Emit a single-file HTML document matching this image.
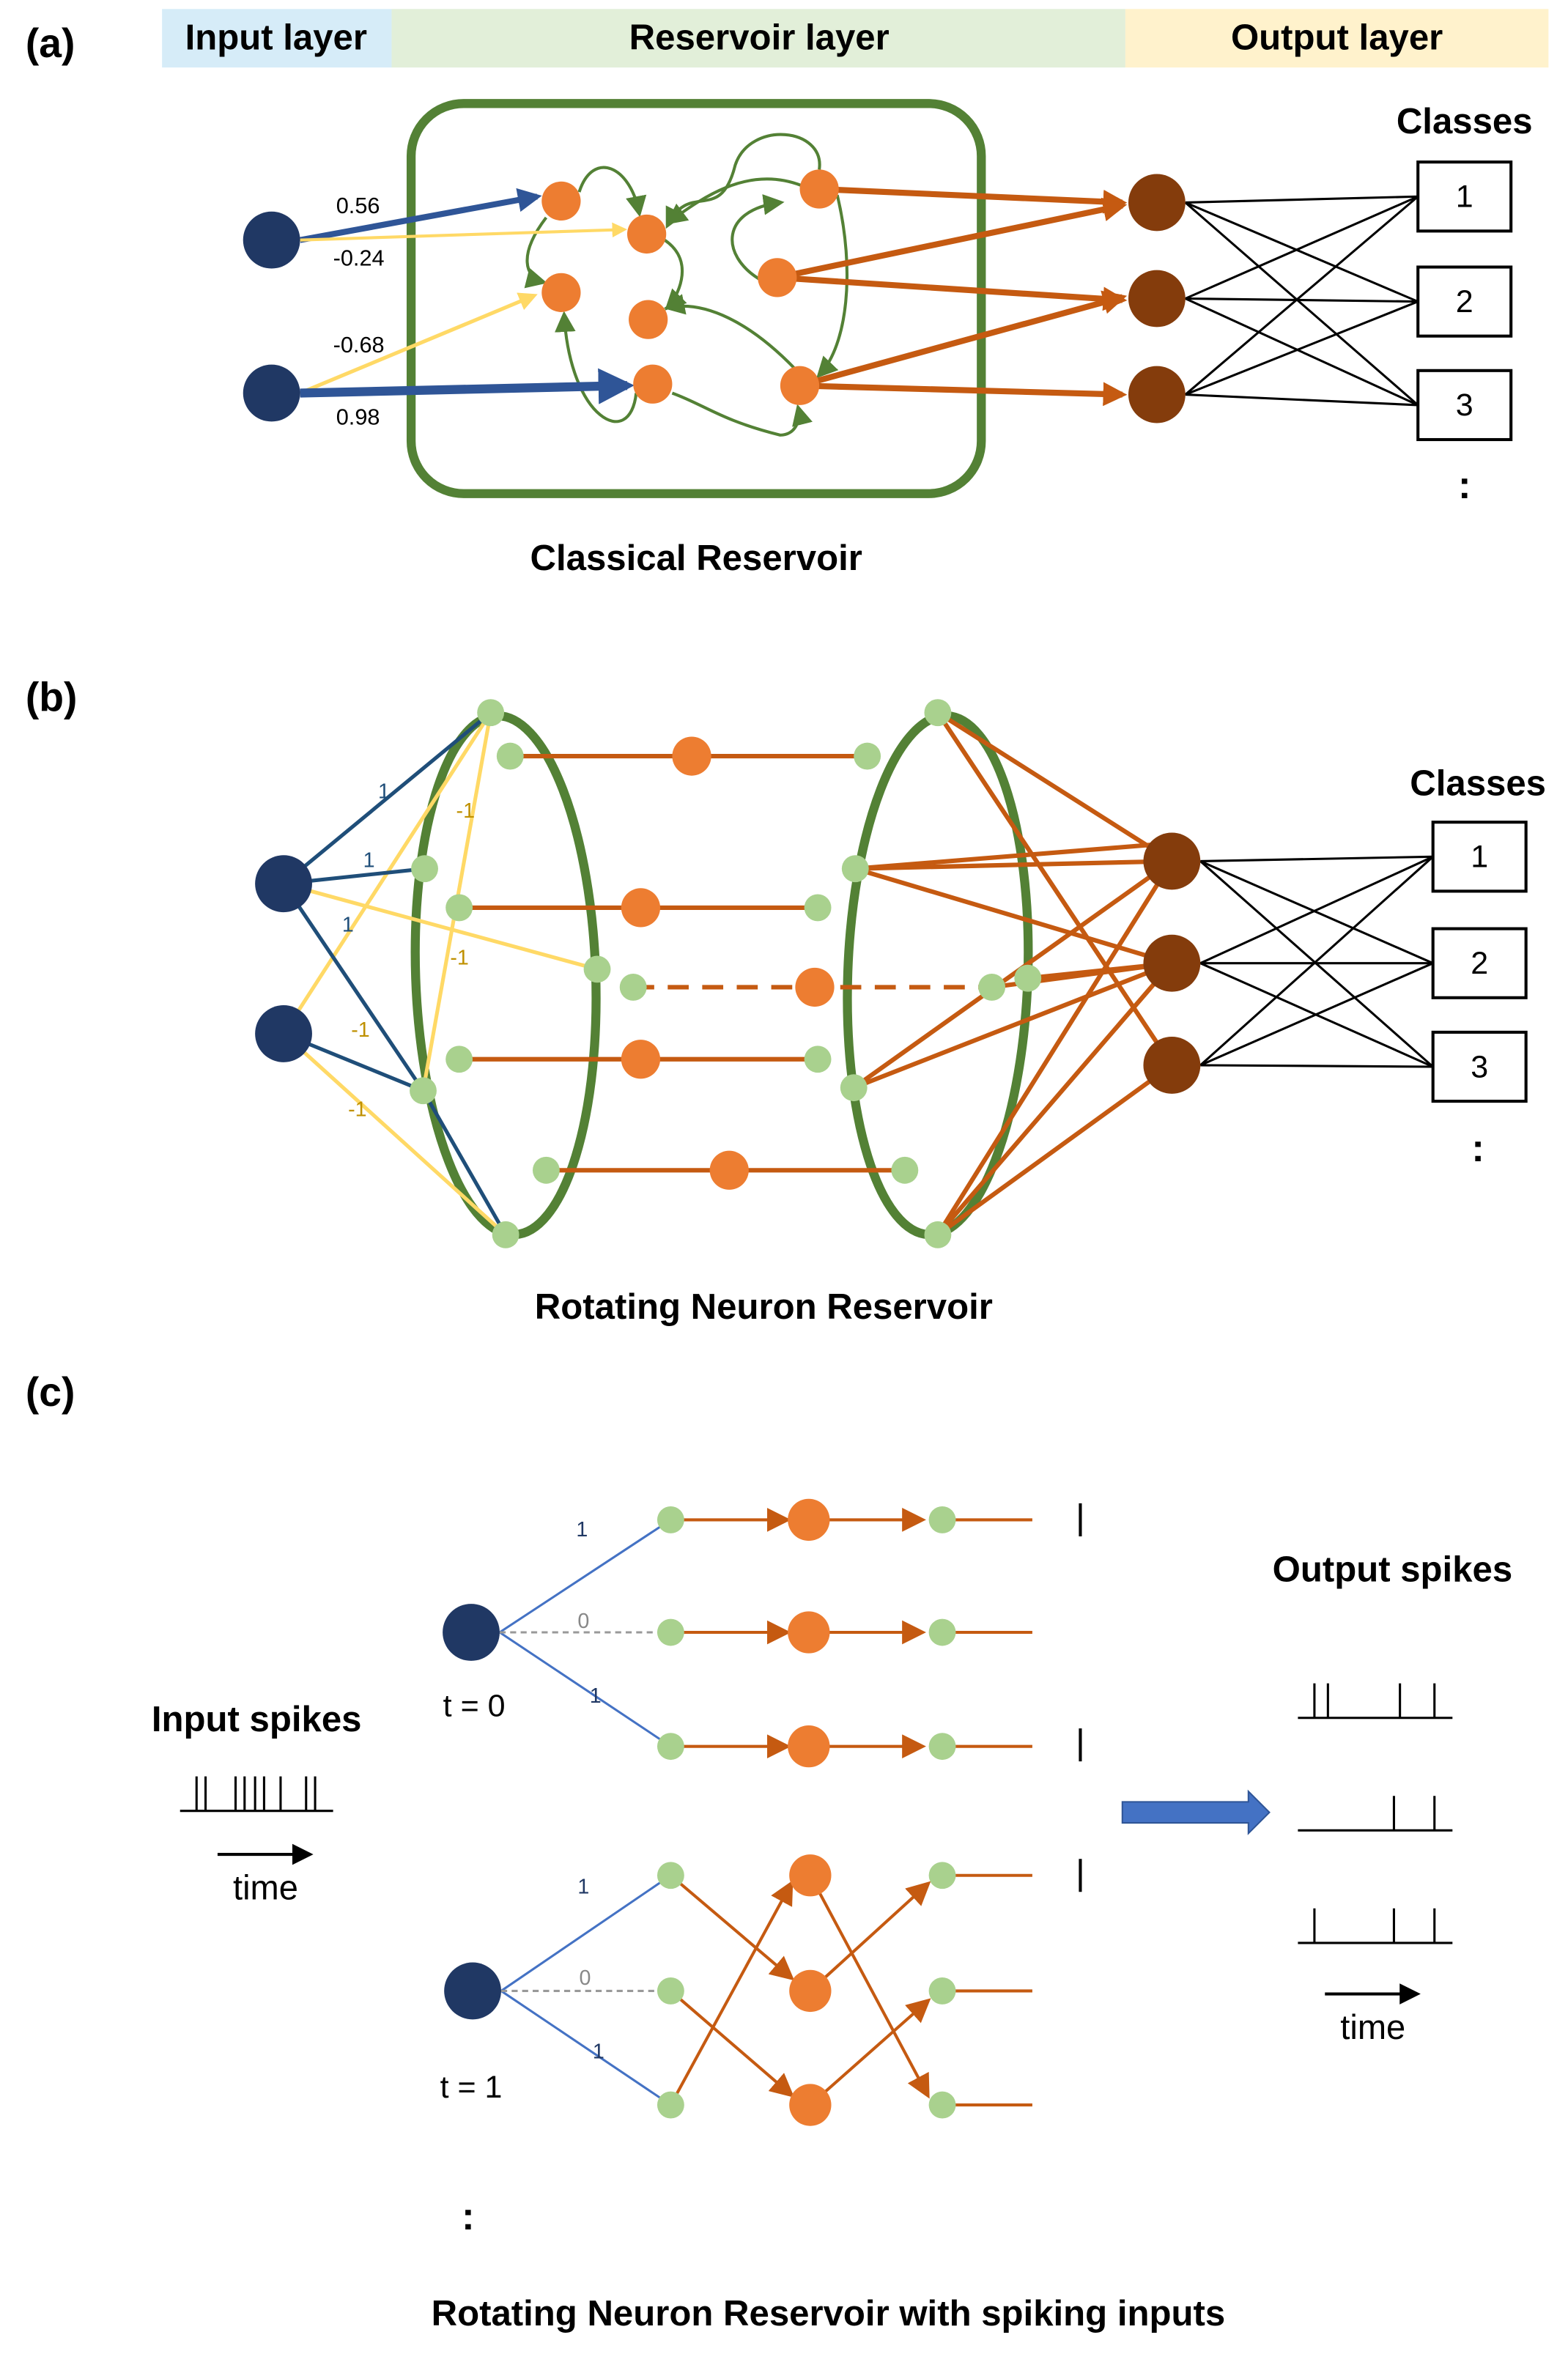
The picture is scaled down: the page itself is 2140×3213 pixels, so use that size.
<!DOCTYPE html>
<html><head><meta charset="utf-8"><style>
html,body{margin:0;padding:0;background:#fff}
svg{display:block}
text{font-family:"Liberation Sans",sans-serif}
.b{font-weight:bold}
</style></head><body>
<svg width="2140" height="3213" viewBox="0 0 1045 1569" preserveAspectRatio="none" xmlns="http://www.w3.org/2000/svg">
<defs>
<marker id="ab" viewBox="0 0 10 10" refX="8" refY="5" markerWidth="4" markerHeight="4" orient="auto"><path d="M0,0L10,5L0,10z" fill="#2f5597"/></marker>
<marker id="ay" viewBox="0 0 10 10" refX="8" refY="5" markerWidth="5" markerHeight="5" orient="auto"><path d="M0,0L10,5L0,10z" fill="#ffd966"/></marker>
<marker id="ao" viewBox="0 0 10 10" refX="8" refY="5" markerWidth="4" markerHeight="4" orient="auto"><path d="M0,0L10,5L0,10z" fill="#c55a11"/></marker>
<marker id="ao2" viewBox="0 0 10 10" refX="8" refY="5" markerWidth="8" markerHeight="8" orient="auto"><path d="M0,0L10,5L0,10z" fill="#c55a11"/></marker>
<marker id="ag" viewBox="0 0 10 10" refX="8" refY="5" markerWidth="7" markerHeight="7" orient="auto"><path d="M0,0L10,5L0,10z" fill="#538135"/></marker>
<marker id="ak" viewBox="0 0 10 10" refX="8" refY="5" markerWidth="7" markerHeight="7" orient="auto"><path d="M0,0L10,5L0,10z" fill="#000"/></marker>
</defs>
<!-- Panel a -->
<text x="17" y="38" class="b" font-size="27">(a)</text>
<rect x="108" y="6" width="153" height="39" fill="#d6ecf8"/>
<rect x="261" y="6" width="489" height="39" fill="#e2efd9"/>
<rect x="750" y="6" width="282" height="39" fill="#fff2cc"/>
<text x="184" y="33" class="b" font-size="24" text-anchor="middle">Input layer</text>
<text x="506" y="33" class="b" font-size="24" text-anchor="middle">Reservoir layer</text>
<text x="891" y="33" class="b" font-size="24" text-anchor="middle">Output layer</text>
<rect x="274" y="69" width="380" height="260" rx="35" fill="none" stroke="#538135" stroke-width="6"/>
<g stroke="#538135" stroke-width="2" fill="none" marker-end="url(#ag)">
<path d="M386,128 C395,100 420,110 426,142"/>
<path d="M364,145 C345,170 350,185 362,188"/>
<path d="M443,160 C465,175 450,200 445,205"/>
<path d="M535,124 C500,110 470,130 446,148"/>
<path d="M546,113 C550,85 500,80 490,110 C480,150 460,120 445,150"/>
<path d="M506,186 C480,170 480,140 520,135"/>
<path d="M530,246 C500,215 470,200 445,205"/>
<path d="M558,130 C570,180 565,230 546,250"/>
<path d="M448,262 C470,270 480,280 520,290 C530,290 534,280 532,272"/>
<path d="M424,262 C420,300 380,280 376,210"/>
</g>
<line x1="200" y1="160" x2="358" y2="131" stroke="#2f5597" stroke-width="4" marker-end="url(#ab)"/>
<line x1="200" y1="160" x2="416" y2="153" stroke="#ffd966" stroke-width="2" marker-end="url(#ay)"/>
<line x1="200" y1="262" x2="356" y2="197" stroke="#ffd966" stroke-width="2.5" marker-end="url(#ay)"/>
<line x1="200" y1="262" x2="418" y2="257" stroke="#2f5597" stroke-width="6" marker-end="url(#ab)"/>
<g font-size="15"><text x="224" y="142">0.56</text><text x="222" y="177">-0.24</text><text x="222" y="235">-0.68</text><text x="224" y="283">0.98</text></g>
<circle cx="181" cy="160" r="19" fill="#203864"/><circle cx="181" cy="262" r="19" fill="#203864"/>
<g stroke="#c55a11" stroke-width="4" marker-end="url(#ao)">
<line x1="546" y1="126" x2="748" y2="135"/>
<line x1="518" y1="185" x2="748" y2="137"/>
<line x1="518" y1="185" x2="748" y2="200"/>
<line x1="533" y1="257" x2="748" y2="198"/>
<line x1="533" y1="257" x2="748" y2="263"/>
</g>
<g fill="#ed7d31"><circle cx="374" cy="134" r="13"/><circle cx="431" cy="156" r="13"/><circle cx="374" cy="195" r="13"/><circle cx="432" cy="213" r="13"/><circle cx="435" cy="256" r="13"/><circle cx="546" cy="126" r="13"/><circle cx="518" cy="185" r="13"/><circle cx="533" cy="257" r="13"/></g>
<g stroke="#000" stroke-width="1.5">
<line x1="790" y1="135" x2="945" y2="131"/><line x1="790" y1="135" x2="945" y2="201"/><line x1="790" y1="135" x2="945" y2="270"/>
<line x1="790" y1="199" x2="945" y2="131"/><line x1="790" y1="199" x2="945" y2="201"/><line x1="790" y1="199" x2="945" y2="270"/>
<line x1="790" y1="263" x2="945" y2="131"/><line x1="790" y1="263" x2="945" y2="201"/><line x1="790" y1="263" x2="945" y2="270"/>
</g>
<g fill="#843c0c"><circle cx="771" cy="135" r="19"/><circle cx="771" cy="199" r="19"/><circle cx="771" cy="263" r="19"/></g>
<g fill="#fff" stroke="#000" stroke-width="2"><rect x="945" y="108" width="62" height="46"/><rect x="945" y="178" width="62" height="46"/><rect x="945" y="247" width="62" height="46"/></g>
<g font-size="21" text-anchor="middle"><text x="976" y="138">1</text><text x="976" y="208">2</text><text x="976" y="277">3</text></g>
<text x="976" y="89" class="b" font-size="24" text-anchor="middle">Classes</text>
<text x="976" y="332" class="b" font-size="26" text-anchor="middle">:</text>
<text x="464" y="380" class="b" font-size="24" text-anchor="middle">Classical Reservoir</text>

<!-- Panel b -->
<text x="17" y="474" class="b" font-size="27">(b)</text>
<ellipse cx="337" cy="650" rx="60" ry="173" fill="none" stroke="#538135" stroke-width="6" transform="rotate(-2 337 650)"/>
<ellipse cx="625" cy="650" rx="60" ry="173" fill="none" stroke="#538135" stroke-width="6" transform="rotate(2 625 650)"/>
<g stroke="#c55a11" stroke-width="3">
<line x1="340" y1="504" x2="578" y2="504"/><line x1="306" y1="605" x2="545" y2="605"/>
<line x1="422" y1="658" x2="661" y2="658" stroke-dasharray="14,9"/>
<line x1="306" y1="706" x2="545" y2="706"/><line x1="364" y1="780" x2="603" y2="780"/>
<line x1="625" y1="475" x2="781" y2="574"/><line x1="625" y1="475" x2="781" y2="710"/>
<line x1="570" y1="579" x2="781" y2="574"/><line x1="570" y1="579" x2="781" y2="562"/><line x1="570" y1="579" x2="781" y2="642"/>
<line x1="685" y1="652" x2="781" y2="642"/><line x1="661" y1="658" x2="781" y2="642"/>
<line x1="569" y1="725" x2="781" y2="574"/><line x1="569" y1="725" x2="781" y2="642"/>
<line x1="625" y1="823" x2="781" y2="574"/><line x1="625" y1="823" x2="781" y2="642"/><line x1="625" y1="823" x2="781" y2="710"/>
</g>
<g stroke="#ffd966" stroke-width="2.5">
<line x1="189" y1="589" x2="398" y2="646"/><line x1="189" y1="689" x2="327" y2="475"/><line x1="327" y1="475" x2="282" y2="727"/>
<line x1="189" y1="689" x2="337" y2="823"/>
</g>
<g stroke="#1f4e79" stroke-width="2.5">
<line x1="189" y1="589" x2="327" y2="475"/><line x1="189" y1="589" x2="283" y2="579"/><line x1="189" y1="589" x2="282" y2="727"/>
<line x1="189" y1="689" x2="282" y2="727"/><line x1="282" y1="727" x2="337" y2="823"/>
</g>
<g font-size="14" fill="#1f4e79"><text x="252" y="532">1</text><text x="242" y="578">1</text><text x="228" y="621">1</text></g>
<g font-size="14" fill="#bf9000"><text x="304" y="545">-1</text><text x="300" y="643">-1</text><text x="234" y="691">-1</text><text x="232" y="744">-1</text></g>
<circle cx="189" cy="589" r="19" fill="#203864"/><circle cx="189" cy="689" r="19" fill="#203864"/>
<g fill="#a9d18e">
<circle cx="327" cy="475" r="9"/><circle cx="340" cy="504" r="9"/><circle cx="283" cy="579" r="9"/><circle cx="306" cy="605" r="9"/><circle cx="398" cy="646" r="9"/><circle cx="422" cy="658" r="9"/><circle cx="306" cy="706" r="9"/><circle cx="282" cy="727" r="9"/><circle cx="364" cy="780" r="9"/><circle cx="337" cy="823" r="9"/>
<circle cx="625" cy="475" r="9"/><circle cx="578" cy="504" r="9"/><circle cx="570" cy="579" r="9"/><circle cx="545" cy="605" r="9"/><circle cx="661" cy="658" r="9"/><circle cx="685" cy="652" r="9"/><circle cx="545" cy="706" r="9"/><circle cx="569" cy="725" r="9"/><circle cx="603" cy="780" r="9"/><circle cx="625" cy="823" r="9"/>
</g>
<g fill="#ed7d31"><circle cx="461" cy="504" r="13"/><circle cx="427" cy="605" r="13"/><circle cx="543" cy="658" r="13"/><circle cx="427" cy="706" r="13"/><circle cx="486" cy="780" r="13"/></g>
<g stroke="#000" stroke-width="1.5">
<line x1="800" y1="574" x2="955" y2="571"/><line x1="800" y1="574" x2="955" y2="642"/><line x1="800" y1="574" x2="955" y2="711"/>
<line x1="800" y1="642" x2="955" y2="571"/><line x1="800" y1="642" x2="955" y2="642"/><line x1="800" y1="642" x2="955" y2="711"/>
<line x1="800" y1="710" x2="955" y2="571"/><line x1="800" y1="710" x2="955" y2="642"/><line x1="800" y1="710" x2="955" y2="711"/>
</g>
<g fill="#843c0c"><circle cx="781" cy="574" r="19"/><circle cx="781" cy="642" r="19"/><circle cx="781" cy="710" r="19"/></g>
<g fill="#fff" stroke="#000" stroke-width="2"><rect x="955" y="548" width="62" height="46"/><rect x="955" y="619" width="62" height="46"/><rect x="955" y="688" width="62" height="46"/></g>
<g font-size="21" text-anchor="middle"><text x="986" y="578">1</text><text x="986" y="649">2</text><text x="986" y="718">3</text></g>
<text x="985" y="530" class="b" font-size="24" text-anchor="middle">Classes</text>
<text x="985" y="774" class="b" font-size="26" text-anchor="middle">:</text>
<text x="509" y="879" class="b" font-size="24" text-anchor="middle">Rotating Neuron Reservoir</text>

<!-- Panel c -->
<text x="17" y="937" class="b" font-size="27">(c)</text>
<text x="171" y="1154" class="b" font-size="24" text-anchor="middle">Input spikes</text>
<g stroke="#000" stroke-width="1.5"><line x1="120" y1="1207" x2="222" y2="1207"/>
<path d="M131,1207V1184M137,1207V1184M157,1207V1184M163,1207V1184M170,1207V1184M176,1207V1184M187,1207V1184M204,1207V1184M210,1207V1184"/></g>
<line x1="145" y1="1236" x2="206" y2="1236" stroke="#000" stroke-width="2" marker-end="url(#ak)"/>
<text x="177" y="1266" font-size="23" text-anchor="middle">time</text>

<g stroke="#4472c4" stroke-width="1.5">
<line x1="333" y1="1088" x2="447" y2="1013"/><line x1="333" y1="1088" x2="447" y2="1164"/>
<line x1="334" y1="1327" x2="447" y2="1250"/><line x1="334" y1="1327" x2="447" y2="1403"/></g>
<g stroke="#999" stroke-width="1.5" stroke-dasharray="4,3"><line x1="333" y1="1088" x2="447" y2="1088"/><line x1="334" y1="1327" x2="447" y2="1327"/></g>
<g font-size="14" fill="#203864"><text x="384" y="1024">1</text><text x="393" y="1135">1</text><text x="385" y="1262">1</text><text x="395" y="1372">1</text></g>
<g font-size="14" fill="#888"><text x="385" y="1085">0</text><text x="386" y="1323">0</text></g>
<g stroke="#c55a11" stroke-width="2" marker-end="url(#ao2)">
<line x1="447" y1="1013" x2="524" y2="1013"/><line x1="539" y1="1013" x2="614" y2="1013"/>
<line x1="447" y1="1088" x2="524" y2="1088"/><line x1="539" y1="1088" x2="614" y2="1088"/>
<line x1="447" y1="1164" x2="524" y2="1164"/><line x1="539" y1="1164" x2="614" y2="1164"/>
<line x1="447" y1="1250" x2="527" y2="1318"/><line x1="447" y1="1327" x2="527" y2="1396"/><line x1="447" y1="1403" x2="527" y2="1256"/>
<line x1="540" y1="1250" x2="618" y2="1396"/><line x1="540" y1="1327" x2="618" y2="1256"/><line x1="540" y1="1403" x2="618" y2="1334"/>
</g>
<g stroke="#c55a11" stroke-width="2">
<line x1="628" y1="1013" x2="688" y2="1013"/><line x1="628" y1="1088" x2="688" y2="1088"/><line x1="628" y1="1164" x2="688" y2="1164"/>
<line x1="628" y1="1250" x2="688" y2="1250"/><line x1="628" y1="1327" x2="688" y2="1327"/><line x1="628" y1="1403" x2="688" y2="1403"/></g>
<g fill="#a9d18e">
<circle cx="447" cy="1013" r="9"/><circle cx="447" cy="1088" r="9"/><circle cx="447" cy="1164" r="9"/><circle cx="628" cy="1013" r="9"/><circle cx="628" cy="1088" r="9"/><circle cx="628" cy="1164" r="9"/>
<circle cx="447" cy="1250" r="9"/><circle cx="447" cy="1327" r="9"/><circle cx="447" cy="1403" r="9"/><circle cx="628" cy="1250" r="9"/><circle cx="628" cy="1327" r="9"/><circle cx="628" cy="1403" r="9"/></g>
<g fill="#ed7d31"><circle cx="539" cy="1013" r="14"/><circle cx="539" cy="1088" r="14"/><circle cx="539" cy="1164" r="14"/><circle cx="540" cy="1250" r="14"/><circle cx="540" cy="1327" r="14"/><circle cx="540" cy="1403" r="14"/></g>
<circle cx="314" cy="1088" r="19" fill="#203864"/><circle cx="315" cy="1327" r="19" fill="#203864"/>
<text x="316" y="1144" font-size="21" text-anchor="middle">t = 0</text>
<text x="314" y="1398" font-size="21" text-anchor="middle">t = 1</text>
<g stroke="#000" stroke-width="2"><line x1="720" y1="1002" x2="720" y2="1024"/><line x1="720" y1="1152" x2="720" y2="1174"/><line x1="720" y1="1239" x2="720" y2="1261"/></g>
<path d="M748,1201H832V1194L846,1208L832,1222V1215H748Z" fill="#4472c4" stroke="#2f5597"/>
<text x="928" y="1054" class="b" font-size="24" text-anchor="middle">Output spikes</text>
<g stroke="#000" stroke-width="1.5" fill="none">
<path d="M865,1145H968M876,1145V1122M885,1145V1122M933,1145V1122M956,1145V1122"/>
<path d="M865,1220H968M929,1220V1197M956,1220V1197"/>
<path d="M865,1295H968M876,1295V1272M929,1295V1272M956,1295V1272"/></g>
<line x1="883" y1="1329" x2="944" y2="1329" stroke="#000" stroke-width="2" marker-end="url(#ak)"/>
<text x="915" y="1359" font-size="23" text-anchor="middle">time</text>
<text x="312" y="1486" class="b" font-size="26" text-anchor="middle">:</text>
<text x="552" y="1550" class="b" font-size="24" text-anchor="middle">Rotating Neuron Reservoir with spiking inputs</text>
</svg>
</body></html>
